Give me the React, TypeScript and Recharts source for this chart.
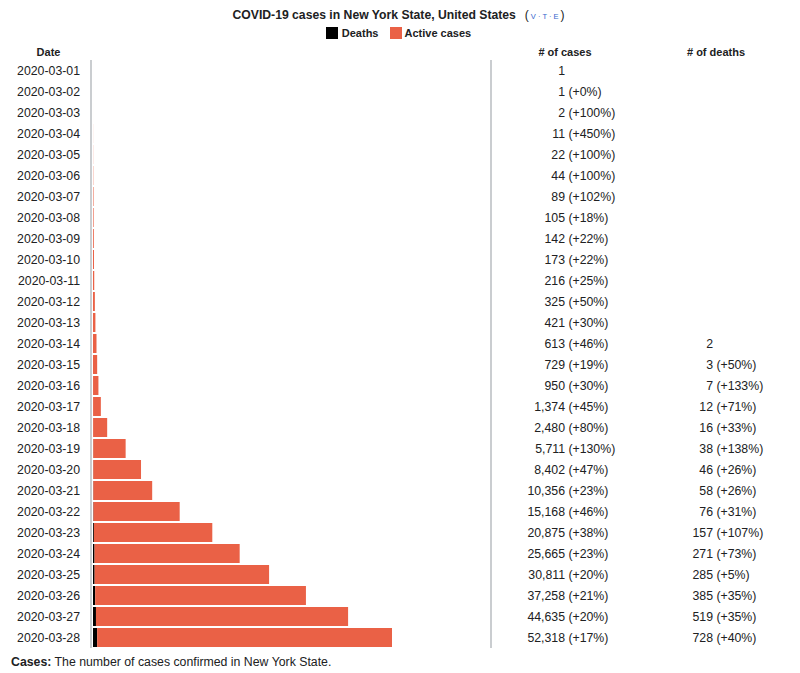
import { BarChart, Bar, XAxis, YAxis } from "recharts";

const dates = [
  "2020-03-01", "2020-03-02", "2020-03-03", "2020-03-04", "2020-03-05", "2020-03-06", "2020-03-07",
  "2020-03-08", "2020-03-09", "2020-03-10", "2020-03-11", "2020-03-12", "2020-03-13", "2020-03-14",
  "2020-03-15", "2020-03-16", "2020-03-17", "2020-03-18", "2020-03-19", "2020-03-20", "2020-03-21",
  "2020-03-22", "2020-03-23", "2020-03-24", "2020-03-25", "2020-03-26", "2020-03-27", "2020-03-28",
];

const cases = [
  1, 1, 2, 11, 22, 44, 89, 105, 142, 173, 216, 325, 421, 613, 729, 950, 1374, 2480, 5711, 8402,
  10356, 15168, 20875, 25665, 30811, 37258, 44635, 52318,
];

const casePct = [
  "", "+0%", "+100%", "+450%", "+100%", "+100%", "+102%", "+18%", "+22%", "+22%", "+25%", "+50%",
  "+30%", "+46%", "+19%", "+30%", "+45%", "+80%", "+130%", "+47%", "+23%", "+46%", "+38%", "+23%",
  "+20%", "+21%", "+20%", "+17%",
];

const deaths = [
  0, 0, 0, 0, 0, 0, 0, 0, 0, 0, 0, 0, 0, 2, 3, 7, 12, 16, 38, 46, 58, 76, 157, 271, 285, 385, 519, 728,
];

const deathPct = [
  "", "", "", "", "", "", "", "", "", "", "", "", "", "", "+50%", "+133%", "+71%", "+33%", "+138%",
  "+26%", "+26%", "+31%", "+107%", "+73%", "+5%", "+35%", "+35%", "+40%",
];

const data = dates.map((date, i) => ({
  date,
  deaths: deaths[i],
  active: cases[i] - deaths[i],
  cases: cases[i],
  casePct: casePct[i],
  deathPct: deathPct[i],
}));

const FONT = '"Liberation Sans", Arial, Helvetica, sans-serif';
const TEXT = "#202122";
const ORANGE = "#EA6146";
const GRID = "#b8bcc0";
const FS = 12.3;

const fmt = (n: number) => n.toLocaleString("en-US");

const DateTick = ({ y, payload }: any) => (
  <text x={80} y={y} dy="0.35em" textAnchor="end" fontSize={FS} fill={TEXT} fontFamily={FONT}>
    {payload.value}
  </text>
);

const CountTick = ({ y, payload }: any) => {
  const row = data.find((d) => d.date === payload.value);
  if (!row) return null;
  const style = { fontSize: FS, fill: TEXT, fontFamily: FONT };
  return (
    <g>
      <text x={565} y={y} dy="0.35em" textAnchor="end" {...style}>{fmt(row.cases)}</text>
      {row.casePct && (
        <text x={568.4} y={y} dy="0.35em" textAnchor="start" {...style}>({row.casePct})</text>
      )}
      {row.deaths > 0 && (
        <text x={713} y={y} dy="0.35em" textAnchor="end" {...style}>{fmt(row.deaths)}</text>
      )}
      {row.deaths > 0 && row.deathPct && (
        <text x={716.4} y={y} dy="0.35em" textAnchor="start" {...style}>({row.deathPct})</text>
      )}
    </g>
  );
};

const header = (label: string, center: number) => (
  <div
    style={{
      position: "absolute",
      left: center - 60,
      width: 120,
      top: 45,
      textAlign: "center",
      fontWeight: "bold",
      fontSize: 11,
      lineHeight: "14px",
    }}
  >
    {label}
  </div>
);

export default function App() {
  return (
    <div
      style={{
        position: "absolute",
        left: 0,
        top: 0,
        width: 800,
        height: 673,
        background: "#fff",
        fontFamily: FONT,
        color: TEXT,
      }}
    >
      <div
        style={{
          position: "absolute",
          left: 0,
          width: 797,
          top: 7,
          textAlign: "center",
          fontSize: 12.2,
          lineHeight: "16px",
          whiteSpace: "nowrap",
        }}
      >
        <b>COVID-19 cases in New York State, United States</b>
        <span style={{ fontSize: 12, marginLeft: 9 }}>
          (
          <span style={{ color: "#3366cc", fontSize: 7.5, margin: "0 2px", whiteSpace: "pre" }}>
            {"V · T · E"}
          </span>
          )
        </span>
      </div>

      <div
        style={{
          position: "absolute",
          left: 0,
          width: 797,
          top: 26,
          display: "flex",
          justifyContent: "center",
          alignItems: "center",
          fontSize: 11,
          fontWeight: "bold",
          lineHeight: "14px",
        }}
      >
        <span style={{ width: 12, height: 12, background: "#000", marginRight: 4 }} />
        <span style={{ marginRight: 11 }}>Deaths</span>
        <span style={{ width: 12, height: 12, background: ORANGE, marginRight: 3 }} />
        <span>Active cases</span>
      </div>

      {header("Date", 48.5)}
      {header("# of cases", 565)}
      {header("# of deaths", 716)}

      <BarChart
        width={800}
        height={673}
        data={data}
        layout="vertical"
        margin={{ top: 60, right: 0, bottom: 25, left: 0 }}
        barSize={19}
      >
        <XAxis type="number" hide domain={[-350, 69640]} allowDataOverflow />
        <YAxis
          yAxisId="left"
          type="category"
          dataKey="date"
          orientation="left"
          width={91}
          interval={0}
          tickLine={false}
          axisLine={{ stroke: GRID, strokeWidth: 1.5 }}
          tick={<DateTick />}
        />
        <YAxis
          yAxisId="right"
          type="category"
          dataKey="date"
          orientation="right"
          width={309}
          interval={0}
          tickLine={false}
          axisLine={{ stroke: GRID, strokeWidth: 1.5 }}
          tick={<CountTick />}
        />
        <Bar yAxisId="left" dataKey="deaths" name="Deaths" stackId="a" fill="#000" isAnimationActive={false} />
        <Bar yAxisId="left" dataKey="active" name="Active cases" stackId="a" fill={ORANGE} isAnimationActive={false} />
      </BarChart>

      <div style={{ position: "absolute", left: 11, top: 654, fontSize: FS, lineHeight: "16px" }}>
        <b>Cases:</b> The number of cases confirmed in New York State.
      </div>
    </div>
  );
}
